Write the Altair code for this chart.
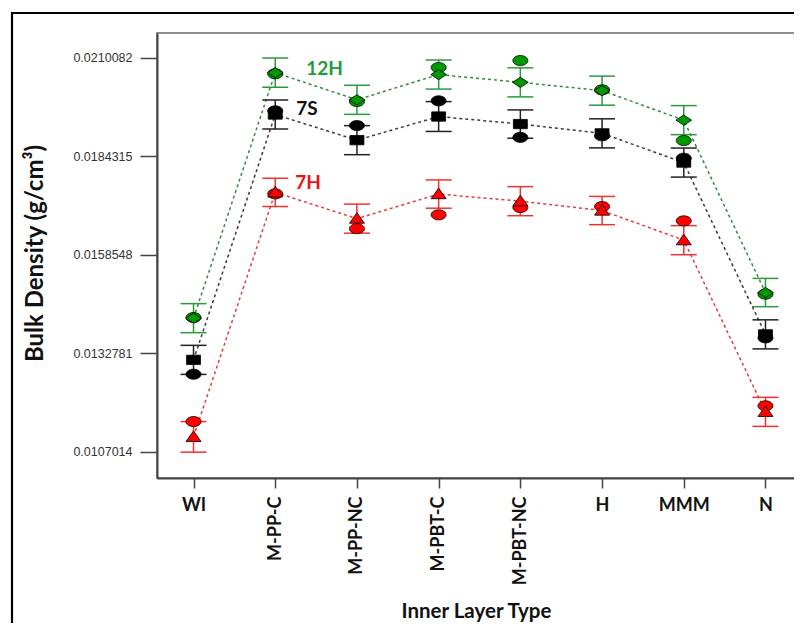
import altair as alt
import pandas as pd

categories = ["WI", "M-PP-C", "M-PP-NC", "M-PBT-C", "M-PBT-NC", "H", "MMM", "N"]
series = ["12H", "7S", "7H"]

# predicted (fitted) values, with error bars
pred_12H = [0.014191, 0.020613, 0.019902, 0.020563, 0.020359, 0.020142, 0.019371, 0.014861]
pred_7S = [0.013100, 0.019517, 0.018847, 0.019465, 0.019268, 0.019025, 0.018261, 0.013767]
pred_7H = [0.011086, 0.017482, 0.016794, 0.017437, 0.017251, 0.017006, 0.016231, 0.011740]
# observed values (ellipse markers)
obs_12H = [0.014207, 0.020582, 0.019857, 0.020747, 0.020930, 0.020163, 0.018837, 0.014819]
obs_7S = [0.012726, 0.019614, 0.019229, 0.019875, 0.018920, 0.018960, 0.018376, 0.013675]
obs_7H = [0.011486, 0.017442, 0.016532, 0.016893, 0.017084, 0.017110, 0.016736, 0.011897]
# error half-widths
err_12H = [0.00038, 0.00038, 0.00038, 0.00038, 0.00038, 0.00038, 0.00038, 0.00037]
err_7S = [0.00038, 0.00038, 0.00038, 0.00039, 0.00037, 0.00038, 0.00038, 0.00038]
err_7H = [0.00040, 0.00037, 0.00038, 0.00037, 0.00038, 0.00037, 0.00038, 0.00038]

y_ticks = [0.0107014, 0.0132781, 0.0158548, 0.0184315, 0.0210082]

preds = [pred_12H, pred_7S, pred_7H]
obss = [obs_12H, obs_7S, obs_7H]
errs = [err_12H, err_7S, err_7H]

rows = []
for s, p, o, e in zip(series, preds, obss, errs):
    for c, pv, ov, ev in zip(categories, p, o, e):
        rows.append(dict(category=c, series=s, pred=pv, obs=ov, lo=pv - ev, hi=pv + ev))
df = pd.DataFrame(rows)

# styles
line_colors = {"12H": "#2e8b3e", "7S": "#3a3a3a", "7H": "#e83838"}
err_colors = {"12H": "#2a9a3e", "7S": "#222222", "7H": "#ee3333"}
fill_colors = {"12H": "#009a00", "7S": "#000000", "7H": "#ff0000"}
label_colors = {"12H": "#1e9b3c", "7S": "#111111", "7H": "#ee1111"}
label_dx = {"12H": 31, "7S": 21, "7H": 20}
label_dy = {"12H": -4, "7S": -6, "7H": -9}

ELLIPSE = "M-1,0A1,0.67,0,1,1,1,0A1,0.67,0,1,1,-1,0Z"
SQUARE = "M-0.93,-0.62H0.93V0.62H-0.93Z"
DIAMOND = "M-1.05,0L0,-0.68L1.05,0L0,0.68Z"
TRIANGLE = "M0,-0.8L1,0.62H-1Z"
pred_shapes = {"12H": DIAMOND, "7S": SQUARE, "7H": TRIANGLE}

W, H = 645, 445

x_axis = alt.Axis(
    labelAngle={"expr": "length(datum.label) > 3 ? 270 : 0"},
    labelAlign={"expr": "length(datum.label) > 3 ? 'right' : 'center'"},
    labelBaseline={"expr": "length(datum.label) > 3 ? 'middle' : 'top'"},
    labelOverlap=False,
    labelPadding=8,
    labelFont="Lato",
    labelFontWeight="bold",
    labelFontSize=18,
    labelColor="#111111",
    tickSize=10,
    tickColor="#444444",
    tickWidth=1.5,
    domainColor="#444444",
    domainWidth=2,
    grid=False,
    titleFont="Lato",
    titleFontWeight="bold",
    titleFontSize=20.5,
    titleColor="#111111",
    titleX=319,
    titleY=123,
    titleBaseline="top",
)

y_axis = alt.Axis(
    values=y_ticks,
    format=".7f",
    labelFont="Liberation Sans",
    labelFontSize=12.5,
    labelColor="#333333",
    labelPadding=8,
    tickSize=17,
    tickColor="#444444",
    tickWidth=1.5,
    domainColor="#444444",
    domainWidth=2,
    grid=False,
    titleFont="Lato",
    titleFontWeight="bold",
    titleFontSize=24,
    titleColor="#111111",
    titleX=-110,
    titleY=220,
)

x_enc = alt.X(
    "category:N",
    sort=categories,
    scale=alt.Scale(type="point", domain=categories, padding=0.447),
    axis=x_axis,
    title="Inner Layer Type",
)
y_scale = alt.Scale(domain=[0.01001, 0.02165], nice=False, zero=False)


def y_enc(field):
    return alt.Y(field + ":Q", scale=y_scale, axis=y_axis, title="Bulk Density (g/cm³)")


layers = []

frame_df = pd.DataFrame({"k": [0]})
layers.append(
    alt.Chart(frame_df).mark_rule(color="black", strokeWidth=2.2).encode(
        x=alt.value(-145), x2=alt.value(W), y=alt.value(-20)
    )
)
layers.append(
    alt.Chart(frame_df).mark_rule(color="black", strokeWidth=2.2).encode(
        x=alt.value(-145), y=alt.value(-21), y2=alt.value(H + 160)
    )
)

for s in series:
    d = df[df["series"] == s]
    base = alt.Chart(d)
    layers.append(
        base.mark_line(color=line_colors[s], strokeDash=[3, 3], strokeWidth=1.5).encode(
            x=x_enc, y=y_enc("pred")
        )
    )
    layers.append(
        base.mark_rule(color=err_colors[s], strokeWidth=1.5).encode(
            x=x_enc, y=y_enc("lo"), y2="hi:Q"
        )
    )
    for f in ["lo", "hi"]:
        layers.append(
            base.mark_tick(color=err_colors[s], size=26, thickness=1.5, opacity=1).encode(
                x=x_enc, y=y_enc(f)
            )
        )

for s in series:
    d = df[df["series"] == s]
    base = alt.Chart(d)
    layers.append(
        base.mark_point(
            shape=ELLIPSE, size=225, filled=True, fill=fill_colors[s], fillOpacity=1,
            stroke="#000000", strokeWidth=0.8, opacity=1
        ).encode(x=x_enc, y=y_enc("obs"))
    )
    layers.append(
        base.mark_point(
            shape=pred_shapes[s], size=225, filled=True, fill=fill_colors[s], fillOpacity=1,
            stroke="#000000", strokeWidth=0.8, opacity=1
        ).encode(x=x_enc, y=y_enc("pred"))
    )
    layers.append(
        base.transform_filter(alt.datum.category == "M-PP-C").mark_text(
            text=s, align="left", baseline="middle", dx=label_dx[s], dy=label_dy[s],
            font="Lato", fontWeight="bold", fontSize=19, color=label_colors[s]
        ).encode(x=x_enc, y=y_enc("pred"))
    )

chart = (
    alt.layer(*layers)
    .properties(
        width=W,
        height=H,
        padding={"left": 149, "top": 25, "right": -8, "bottom": 145},
        autosize=alt.AutoSizeParams(type="none"),
        background="white",
    )
    .configure_view(stroke="#6b6b6b", strokeWidth=1.5)
)

chart.save("out.html", embed_options={"renderer": "svg", "actions": False})
